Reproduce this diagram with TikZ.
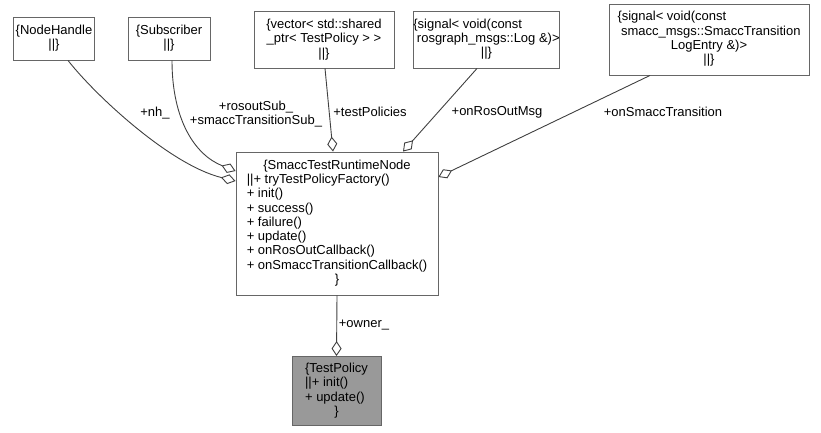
\documentclass[tikz,border=0pt]{standalone}
\usepackage{fontspec}
\setmainfont{Liberation Sans}
\usepackage{xcolor}
\usetikzlibrary{arrows.meta,positioning}
\definecolor{boxgray}{HTML}{666666}
\definecolor{edgegray}{HTML}{404040}
\definecolor{classfill}{HTML}{999999}
\newcommand{\dotfont}{\fontsize{13}{14.3}\selectfont}
\newcommand{\leftrow}[1]{\multicolumn{1}{@{}l@{}}{#1}}
\newcommand{\midrow}[1]{\multicolumn{1}{@{}c@{}}{#1}}

\begin{document}
\begin{tikzpicture}[
  x=1pt, y=-1pt,
  cls/.style={draw=boxgray, line width=0.9pt, fill=white, inner sep=0pt, font=\dotfont, align=center},
  curcls/.style={cls, fill=classfill},
  agg/.style={draw=edgegray, line width=0.9pt, arrows={Diamond[open,length=15pt,width=10pt]-}},
  lbl/.style={font=\dotfont, inner sep=0pt, align=center}
]
\useasboundingbox (0,0) rectangle (821,432);

% used classes along the top
\node[cls, minimum width=81, minimum height=43] (nh) at (54,38.5)
  {\{NodeHandle\\\textbar\textbar\}};
\node[cls, minimum width=82, minimum height=43] (sub) at (169,38.5)
  {\{Subscriber\\\textbar\textbar\}};
\node[cls, minimum width=140, minimum height=57] (vec) at (324,39.5)
  {\{vector< std::shared\\\_ptr< TestPolicy > >\\\textbar\textbar\}};
\node[cls, minimum width=139, minimum height=57] (logsig) at (486.5,39.5)
  {\begin{tabular}{@{}c@{}}\leftrow{\{signal< void(const}\\\ rosgraph\_msgs::Log \&)>\\\textbar\textbar\}\end{tabular}};
\node[cls, minimum width=200, minimum height=71] (smaccsig) at (709,39.5)
  {\begin{tabular}{@{}c@{}}\leftrow{\{signal< void(const}\\\ smacc\_msgs::SmaccTransition\\LogEntry \&)>\\\textbar\textbar\}\end{tabular}};

% runtime node and the documented class
\node[cls, minimum width=202, minimum height=143] (main) at (337,223.5)
  {\begin{tabular}{@{}l@{}}\midrow{\{SmaccTestRuntimeNode}\\
   \textbar\textbar+ tryTestPolicyFactory()\\
   + init()\\
   + success()\\
   + failure()\\
   + update()\\
   + onRosOutCallback()\\
   + onSmaccTransitionCallback()\\
   \midrow{\}}\end{tabular}};
\node[curcls, minimum width=89, minimum height=69] (tp) at (336.5,391)
  {\begin{tabular}{@{}l@{}}\{TestPolicy\\
   \textbar\textbar+ init()\\
   + update()\\
   \midrow{\}}\end{tabular}};

% aggregation edges
\draw[agg] ([yshift=42.5pt]main.west) .. controls (170,165) and (95,95) .. ([xshift=14pt]nh.south);
\draw[agg] ([yshift=52.5pt]main.west) .. controls (195,155) and (172,120) .. ([xshift=3pt]sub.south);
\draw[agg] ([xshift=-4pt]main.north) -- ([xshift=1pt]vec.south);
\draw[agg] ([xshift=66pt]main.north) -- ([xshift=-9.5pt]logsig.south);
\draw[agg] ([yshift=46.5pt]main.east) -- ([xshift=-59pt]smaccsig.south);
\draw[agg] (tp.north) -- (main.south);

% edge labels
\node[lbl] (lnh) at (155,113) {+nh\_};
\node[lbl] (lsub) at (256,114) {+rosoutSub\_\\+smaccTransitionSub\_};
\node[lbl] (lvec) at (370,112) {+testPolicies};
\node[lbl] (llog) at (497,112) {+onRosOutMsg};
\node[lbl] (lsmacc) at (663,112) {+onSmaccTransition};
\node[lbl] (lowner) at (364,325) {+owner\_};
\end{tikzpicture}
\end{document}
